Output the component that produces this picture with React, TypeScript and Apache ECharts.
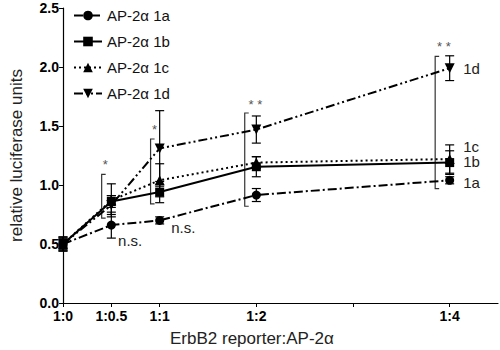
import React, { useEffect, useRef } from "react";
import * as echarts from "echarts";

const xValues = [0, 0.5, 1, 2, 4];
const xTickValues = [0, 0.5, 1, 2, 3, 4];
const xLabelValues = [0, 0.5, 1, 2, 4];
const xLabelTexts = ["1:0", "1:0.5", "1:1", "1:2", "1:4"];

const seriesNames = ["AP-2α 1a", "AP-2α 1b", "AP-2α 1c", "AP-2α 1d"];
const values1a = [0.5, 0.66, 0.7, 0.915, 1.04];
const values1b = [0.5, 0.86, 0.94, 1.155, 1.19];
const values1c = [0.5, 0.87, 1.04, 1.19, 1.22];
const values1d = [0.5, 0.83, 1.31, 1.47, 1.99];
const err1a = [0.06, 0.11, 0.03, 0.055, 0.03];
const err1b = [0.05, 0.05, 0.09, 0.085, 0.1];
const err1c = [0.05, 0.14, 0.14, 0.05, 0.12];
const err1d = [0.06, 0.08, 0.32, 0.115, 0.105];

// brackets: x position, low, high
const bracketX = [0.4, 0.906, 1.88, 3.85];
const bracketLow = [0.72, 0.84, 0.82, 0.97];
const bracketHigh = [1.09, 1.39, 1.61, 2.09];

// annotations: x, y, text
const noteX = [0.41, 0.92, 1.92, 3.87, 0.57, 1.12, 4.14, 4.14, 4.14, 4.14];
const noteY = [1.17, 1.47, 1.68, 2.17, 0.53, 0.64, 1.99, 1.33, 1.2, 1.02];
const noteText = ["*", "*", "* *", "* *", "n.s.", "n.s.", "1d", "1c", "1b", "1a"];

const FONT = "Liberation Sans, Arial, sans-serif";

export default function App() {
  const ref = useRef<HTMLDivElement>(null);
  useEffect(() => {
    if (!ref.current) return;
    const chart = echarts.init(ref.current, undefined, { renderer: "svg" });
    const allVals = [values1a, values1b, values1c, values1d];
    const allErr = [err1a, err1b, err1c, err1d];
    const symbols = ["circle", "rect", "triangle", "triangle"];
    const rotates = [0, 0, 0, 180];
    const dashes: any[] = [[9, 3, 2, 3], "solid", [2, 3], [9, 3, 2, 3, 2, 3]];

    const lineSeries = seriesNames.map((name, i) => ({
      name,
      type: "line",
      data: xValues.map((x, j) => [x, allVals[i][j]]),
      symbol: symbols[i],
      symbolSize: i === 2 || i === 3 ? 10 : 9,
      symbolRotate: rotates[i],
      itemStyle: { color: "#000" },
      lineStyle: { color: "#000", width: 2, type: dashes[i] },
      z: 3,
    }));

    const errData: number[][] = [];
    allVals.forEach((vals, i) => {
      vals.forEach((v, j) => {
        errData.push([xValues[j], v - allErr[i][j], v + allErr[i][j]]);
      });
    });

    const errSeries = {
      type: "custom",
      silent: true,
      data: errData,
      z: 2,
      renderItem: (params: any, api: any) => {
        const x = api.value(0);
        const lo = api.coord([x, api.value(1)]);
        const hi = api.coord([x, api.value(2)]);
        const w = 4.5;
        const st = { stroke: "#000", lineWidth: 1.2 };
        return {
          type: "group",
          children: [
            { type: "line", shape: { x1: lo[0], y1: lo[1], x2: hi[0], y2: hi[1] }, style: st },
            { type: "line", shape: { x1: lo[0] - w, y1: lo[1], x2: lo[0] + w, y2: lo[1] }, style: st },
            { type: "line", shape: { x1: hi[0] - w, y1: hi[1], x2: hi[0] + w, y2: hi[1] }, style: st },
          ],
        };
      },
    };

    const bracketSeries = {
      type: "custom",
      silent: true,
      data: bracketX.map((x, i) => [x, bracketLow[i], bracketHigh[i]]),
      z: 2,
      renderItem: (params: any, api: any) => {
        const x = api.value(0);
        const lo = api.coord([x, api.value(1)]);
        const hi = api.coord([x, api.value(2)]);
        const w = 4;
        const st = { stroke: "#333", lineWidth: 1.2, fill: "none" };
        return {
          type: "polyline",
          shape: {
            points: [
              [hi[0] + w, hi[1]],
              [hi[0], hi[1]],
              [lo[0], lo[1]],
              [lo[0] + w, lo[1]],
            ],
          },
          style: st,
        };
      },
    };

    const noteSeries = {
      type: "custom",
      silent: true,
      data: noteX.map((x, i) => [x, noteY[i]]),
      z: 4,
      renderItem: (params: any, api: any) => {
        const p = api.coord([api.value(0), api.value(1)]);
        const t = noteText[params.dataIndex];
        const isStar = t.indexOf("*") >= 0;
        return {
          type: "text",
          x: p[0],
          y: p[1],
          style: {
            text: t,
            fill: isStar ? "#555" : "#222",
            font: `${isStar ? 13 : 15}px ${FONT}`,
            align: "left",
            verticalAlign: "middle",
          },
        };
      },
    };

    chart.setOption({
      animation: false,
      backgroundColor: "#fff",
      textStyle: { fontFamily: FONT },
      grid: { left: 53, top: 8, right: 2, bottom: 47, containLabel: false },
      legend: {
        orient: "vertical",
        left: 68,
        top: 3,
        itemWidth: 28,
        itemHeight: 12,
        itemGap: 11,
        data: seriesNames,
        textStyle: { fontSize: 15, color: "#111", fontFamily: FONT },
      },
      xAxis: {
        type: "value",
        min: 0,
        max: 4.5,
        axisLine: { lineStyle: { color: "#000", width: 1.2 } },
        axisTick: { show: true, length: 4, customValues: xTickValues, lineStyle: { color: "#000" } },
        axisLabel: {
          customValues: xLabelValues,
          formatter: (v: number) => {
            const idx = xLabelValues.indexOf(v);
            return idx >= 0 ? xLabelTexts[idx] : "";
          },
          fontWeight: "bold",
          fontSize: 14,
          color: "#000",
          margin: 6,
          fontFamily: FONT,
        },
        splitLine: { show: false },
      },
      yAxis: {
        type: "value",
        min: 0,
        max: 2.5,
        interval: 0.5,
        name: "relative luciferase units",
        nameLocation: "middle",
        nameGap: 38,
        nameTextStyle: { fontSize: 17, color: "#222", fontFamily: FONT },
        axisLine: { show: true, lineStyle: { color: "#000", width: 1.2 } },
        axisTick: { show: true, length: 4, lineStyle: { color: "#000" } },
        axisLabel: {
          formatter: (v: number) => v.toFixed(1),
          fontWeight: "bold",
          fontSize: 14,
          color: "#000",
          margin: 4,
          fontFamily: FONT,
        },
        splitLine: { show: false },
      },
      graphic: [
        {
          type: "text",
          left: 258 - 88,
          top: 330,
          style: {
            text: "ErbB2 reporter:AP-2α",
            font: `17px ${FONT}`,
            fill: "#222",
          },
        },
      ],
      series: [...lineSeries, errSeries, bracketSeries, noteSeries],
    });
    return () => chart.dispose();
  }, []);
  return (
    <div
      ref={ref}
      style={{ width: 500, height: 350, position: "fixed", left: 0, top: 0, background: "#fff" }}
    />
  );
}
